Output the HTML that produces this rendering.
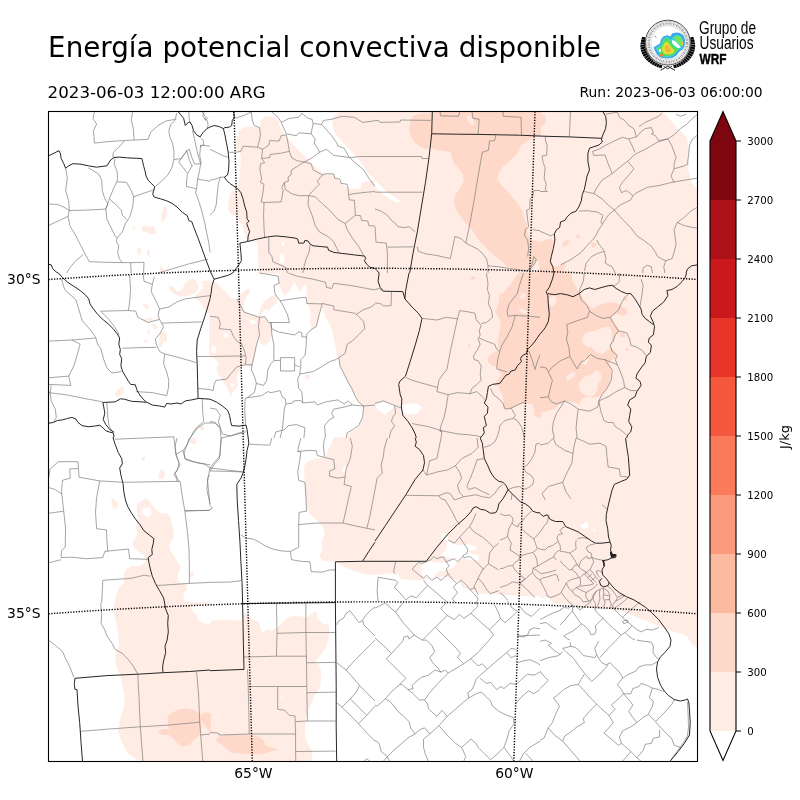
<!DOCTYPE html>
<html lang="es">
<head>
<meta charset="utf-8">
<title>Energía potencial convectiva disponible</title>
<style>
html,body{margin:0;padding:0;background:#fff;}
body{width:800px;height:800px;overflow:hidden;font-family:"DejaVu Sans","Liberation Sans",sans-serif;}
svg{display:block;will-change:transform;}
text{font-family:"DejaVu Sans","Liberation Sans",sans-serif;fill:#000;}
text.lg{font-family:"Liberation Sans","DejaVu Sans",sans-serif;}
</style>
</head>
<body>
<svg id="fig" width="800" height="800" viewBox="0 0 800 800">
<rect x="0" y="0" width="800" height="800" fill="#fff"/>
<!-- TITLES -->
<text id="t1" x="48.1" y="57" font-size="27.78">Energía potencial convectiva disponible</text>
<text id="t2" x="47.6" y="98" font-size="16.67">2023-06-03 12:00:00 ARG</text>
<text id="t3" x="762.6" y="97" font-size="13.89" text-anchor="end">Run: 2023-06-03 06:00:00</text>
<!-- MAP -->
<g id="map">
<defs><clipPath id="mc"><rect x="48.5" y="111.5" width="649" height="650"/></clipPath></defs>
<g clip-path="url(#mc)">
<path fill="#ffede5" stroke="none" d="M163.6 207L166.7 206L166.7 215.3L164.6 220.4L161.5 222.5L161.5 214.2ZM141.9 226.6L146.1 225.6L149.2 227.6L153.3 225.6L155.4 229.7L156.4 233.8L149.2 234.2L147.1 231.8L141.9 231.8ZM132 227.2L135.8 227.2L133.7 230.7ZM137.4 248.3L140.9 247.2L140.9 255.5L137.4 253.4ZM147.1 249.3L149.8 250.3L149.8 256.5L147.1 255.5ZM159.5 266.8L163.6 267.9L164.6 272L160.5 273ZM168.8 285.4L172.9 286.4L177 291.6L181.1 290.5L185.3 283.3L189.4 279.2L193.5 278.2L197.6 282.3L198.7 288.5L195.6 292.6L189.4 295.7L181.1 296.7L173.9 293.6L169.8 290.5ZM201.8 281.3L210.8 280.2L210.8 314.3L205.9 312.2L201.8 303.9L197.6 299.8L193.5 297.8L198.7 292.6L202.8 288.5ZM143 302.9L146.1 303.9L149.2 307L148.1 310.1L144 307ZM141.9 319.4L152.3 317.3L152.3 321.5L146.1 322.5ZM152.3 324.6L155.4 323.5L157.4 327.7L154.3 329.7ZM147.1 329.7L150.2 330.8L149.2 334.9L147.1 333.8ZM160.5 331.8L166.7 332.8L167.1 341.1L163.6 342.1L161.5 347.3L158.4 346.2L159.5 339ZM144 340L148.1 339L148.1 342.1L144 343.1ZM115.1 392.6L120.3 387.5L123.4 386.4L123.8 392.6L119.3 396.8L116.2 396.3ZM198.7 426.7L203.8 425.6L204.9 429.8L199.7 430.2ZM136.8 504L141.9 500.9L146.1 497.8L150.2 501.9L154.3 508.1L160.5 513.3L166.7 513.3L170.8 517.4L171.9 524.6L173.9 530.8L172.9 539.1L168.8 545.3L169.8 549.4L173.9 555.6L177 561.8L181.1 565.9L179.1 571L177 576.2L179.1 582.4L185.3 583.4L187.3 588.6L183.2 594.8L185.3 603.8L115.1 603.8L116.2 594.8L119.3 586.5L124.4 582.4L123.4 576.2L125.4 570L131.6 565.9L139.9 565.9L146.1 561.8L144 555.6L138.9 552.5L133.7 547.3L132.7 542.2L135.8 537L137.8 532.9L135.8 528.8L137.8 520.5L136.8 512.3ZM111 499.9L114.1 498.8L118.2 504L116.2 509.2L113.1 508.1ZM159.5 471L162.6 468.9L165.7 475.1L162.6 479.3L158.4 478.2ZM141.9 457.6L145 456.6L145 460.7L141.9 461.1ZM189.4 438L196.6 438L195.6 444.2L190.4 443.2ZM189.4 573.1L193.5 571L193.1 576.2L190.4 577.2ZM210.8 602.2L210.8 768.8L141.9 768.8L141.9 761.4L133.7 757.7L127.5 753.6L124.4 747.4L120.3 739.1L118.2 730.9L119.3 722.6L121.3 714.4L124.4 706.1L124.4 695.8L122.4 685.5L120.3 675.2L117.2 669L115.1 660.8L116.2 652.5L119.3 644.3L118.2 633.9L116.2 623.6L114.1 613.3L114.1 602.2ZM238.9 130.7L244 127.6L251.3 126.6L259.5 127.6L260.5 120.4L265.7 116.3L273.9 116.7L278.1 121.4L280.5 128.6L284.7 134.4L290.4 141L295.6 147.2L301.8 153.4L308 159.6L314.2 165.8L320.4 171.5L325.5 173.6L333.8 174.4L337.5 179.2L342 183.9L347.8 188.4L354.4 188.9L360.6 188L361.6 182.7L366.8 181.2L373 180.6L375.8 180.6L375.8 273.8L258.5 273.8L257.9 252.4L257 242.1L247.7 241.3L245.1 235.9L243 227.6L240.9 222.5L236.8 219.4L235.8 216.3L231.7 214.8L228.2 210.1L228.6 201.9L229.6 194.6L233.1 190.5L237.8 188L238.9 180.2L239.9 169.9L240.9 157.5L239.9 152.3L235.8 149.3L236.4 138.9ZM331.7 118.3L337.9 113.2L344.1 110.5L375.8 110.5L375.8 179.2L369.9 175L364.3 167.8L358.5 159.6L352.3 152.3L345.1 145.1L338.9 137.9L333.8 131.7L332.7 124.5ZM375.8 272.2L375.8 438.8L347.2 438.8L348.2 433.9L353.4 430.8L358.5 426.7L363.1 417.4L363.7 406L358.5 401.9L354.4 394.7L350.3 386.4L346.1 378.2L342 369.9L338.9 361.7L336.9 355.5L335.8 348.3L333.8 339L332.7 332.8L329.6 323.5L325.5 317.3L323 310.1L321.4 305L317.3 306L314.2 308.1L311.1 306L306.9 303.9L305.9 296.7L306.9 290.5L305.9 284.3L302.8 286.4L300.8 292.6L297.7 288.5L294.6 282.3L292.5 285.4L289.4 291.6L284.3 295.7L281.2 291.6L279.1 283.3L279.1 272.2ZM306.9 303.9L321.4 304.4L319.3 314.3L316.2 326.6L311.5 329.7L310 320.4L311.1 312.2L309 307ZM209.2 281.3L216.2 282.3L222.4 288.5L228.6 295.7L234.8 299.8L237.8 298.8L240.9 293.6L246.1 289.5L250.2 288.5L249.2 293.6L245.1 299.8L243 306L245.1 311.2L251.3 314.3L258.5 316.3L260.5 308.1L263.6 301.9L269.8 296.7L276 294.7L278.1 299.8L276 303.9L271.9 307L268.8 311.2L265.7 309.1L261.6 313.2L260.5 317.3L264.7 317.3L268.8 322.5L270.8 326.6L271.5 334.9L269.8 341.1L265.7 345.2L261.6 344.2L259.5 341.1L258.5 334.9L257 343.1L255 353.4L253.3 361.7L251.3 367.9L249.2 365.8L245.1 364.8L240.9 366.9L238.9 372L236.8 376.1L237.8 384.4L235.8 388.5L232.7 392.6L231.7 396.8L227.5 388.5L222.4 380.3L218.3 374.1L216.2 367.9L219.3 363.8L215.2 359.6L209.2 355.5ZM304.9 375.1L309 374.1L310 379.2L305.9 379.2ZM375.8 437.2L375.8 575.2L363.7 574.1L354.4 571L344.1 566.9L335.4 561.8L323.4 560.7L319.3 556.6L322.4 549.4L321.4 541.1L324.5 534.9L323.4 527.7L319.3 522.6L313.1 517.4L309 512.3L306.5 506.1L305.3 495.8L304.9 482.3L303.9 471L304.9 463.8L309 460.7L317.3 458.6L325.5 457.6L327.6 450.4L331.7 444.2L333.8 437.2ZM209.2 621.6L218.3 619.5L230.6 620.5L242.6 620.5L243 613.3L248.2 614.3L249.2 617.4L258.5 621.6L260.5 628.8L264 633.9L265.7 628.8L271.9 630.8L276.4 627.8L281.2 623.6L286.3 618.5L292.5 615.8L300.8 616.4L306.9 617.4L312.1 613.3L316.2 610.8L317.3 617.4L322.4 623.6L328.6 624.7L329.2 631.9L328.6 640.1L325.5 648.4L321.4 654.6L317.3 658.7L315.2 662.8L319.3 664.9L321.4 673.1L320.4 685.5L317.3 691.7L314.2 695.8L311.1 704.1L308 710.3L305.9 718.5L304.9 726.8L305.3 739.1L309 745.3L312.1 751.5L311.1 768.8L209.2 768.8ZM374.2 107.2L540.8 107.2L540.8 273.8L374.2 273.8ZM374.2 272.2L540.8 272.2L540.8 438.8L374.2 438.8ZM374.2 437.2L540.8 437.2L540.8 603.8L374.2 603.8ZM539.2 107.2L705.8 107.2L705.8 273.8L539.2 273.8ZM539.2 272.2L705.8 272.2L705.8 438.8L539.2 438.8ZM539.2 437.2L705.8 437.2L705.8 603.8L539.2 603.8ZM699.9 602.2L699.9 647.3L693.7 646.3L690.6 642.2L687.5 637L682.3 633.9L674.1 631.9L665.8 628.8L657.6 625.7L647.3 621.6L639 618.5L630.8 614.3L620.4 611.3L608.1 609.2L591.6 608.2L577.1 607.1L566.8 602.2Z"/>
<path fill="#ffffff" stroke="none" d="M141.9 509.2L146.1 508.1L150.2 507.1L151.8 512.3L149.2 517.4L146.1 516.4L141.9 513.3ZM191.5 606.1L197.6 605.1L210.8 605.1L210.8 623.6L203.8 623.6L198.7 620.5L196.6 615.4L192.5 611.3ZM281.2 241.7L283.8 241L284.7 245.2L281.8 245.8ZM279.7 254.5L283.2 253.4L284.7 259.6L283.2 263.7L279.7 262.7ZM212.1 345.2L216.2 347.3L215.2 353.4L211 351.4ZM223.4 333.8L227.5 332.8L228.6 336.9L224.4 338ZM250.2 319.4L256.4 321.5L254.3 324.6L250.2 323.5ZM230.6 382.3L234.8 384.4L233.7 387.5L230.6 386.4ZM342 468.9L345.1 465.8L346.6 471L344.1 473.1ZM281.2 696.2L283.2 696.2L283.2 698.3L281.2 698.3ZM375 181.2L379.1 184.3L387.4 192.6L395.6 197.7L399.8 200.8L397.7 202.9L389.4 198.8L381.2 192.6L375 187.4L374.2 186.4L374.2 180.6ZM376 404L382.2 401.9L391.5 403L394.6 407.1L390.5 410.2L385.3 415.3L380.2 411.2L376 408.1ZM401.8 405L409 403.4L418.3 404L421.4 408.1L417.3 413.3L405.9 414.3L401.8 411.2ZM374.2 575.2L375 575.2L396.7 572.5L401.4 579.3L421.4 580.3L434.8 577.2L445.1 576.2L454.4 580.3L459.6 580.3L461.6 587.5L471.9 590.6L482.3 593.7L498.8 594.8L519.4 595.8L540.8 596.8L540.8 603.8L374.2 603.8ZM421.4 563.8L428.6 561.8L444.1 563.2L447.2 561.8L452.4 558.7L446.2 556.6L441 555.6L445.1 550.4L447.2 545.3L446.2 541.1L442 539.1L441 534.9L444.1 532.9L447.2 534.9L448.2 540.1L452.4 543.2L457.5 545.3L461.6 545.3L467.8 544.2L476.1 546.3L476.1 549.4L468.9 550.4L471.9 554.5L478.1 554.5L479.2 559.7L471.9 560.7L465.8 558.7L461.6 558.7L457.5 561.8L454.4 566.9L446.2 570L436.9 572.1L434.8 576.6L423.5 578.3L421.4 571ZM699.9 110.5L699.9 190.5L696.8 189.5L691.6 182.3L688.5 171.9L688.1 159.6L688.5 145.1L686.5 136.9L680.3 130.7L674.1 124.5L667.9 117.3L661.7 110.5ZM580.2 525.7L586.4 521.5L589.5 525.7L584.3 529.8ZM592.6 529.8L595.7 528.8L594.7 532.9ZM539.2 598.9L546.2 596.8L552.4 601L554.4 603.8L539.2 603.8Z"/>
<path fill="#fed9c9" stroke="none" d="M167.7 716.4L172.9 712.3L179.1 709.2L187.3 708.2L194.5 710.3L199.7 713.4L200.7 718.5L201.8 726.8L199.7 735L193.5 740.2L189.4 745.3L183.2 746.4L177 743.3L172.9 738.1L168.8 735L162.6 735L158.4 731.9L160.5 729.2L168.8 728.8L167.7 722.6ZM200.7 714.4L205.9 712.3L210.8 713.4L210.8 731.9L208 729.9L203.8 724.7L200.7 719.5ZM216.2 739.1L220.3 736L228.6 735L240.9 734.6L251.3 735L259.5 737.1L263.6 740.2L265.7 745.3L271.9 747.4L278.1 749.5L271.9 751.5L263.6 753.6L251.3 754.6L240.9 753.6L230.6 752.5L226.5 748.4L222.4 745.3L217.2 742.2ZM412.1 116.3L419.3 113.8L432.3 112.5L432.3 110.5L540.8 110.5L540.8 136.1L534.9 136.9L527.6 141L521.5 145.1L517.3 153.4L509.1 161.6L501.9 167.8L497.7 176.1L497.7 180.2L502.9 186.4L509.1 193.6L517.3 202.9L522.5 211.1L524.5 219.4L527.6 225.6L526.6 231.8L531.8 240L540.8 242.1L540.8 260.6L535.9 261.7L531.8 268.9L527.6 271L515.3 268.9L507 266.8L500.8 260.6L492.6 254.5L486.4 248.3L480.2 242.1L476.1 235.9L471.9 229.7L465.8 223.5L459.6 215.3L455.4 209.1L454 200.8L455.4 194.6L459.6 189.5L463.7 180.2L462.7 174L458.5 168.8L454.4 163.7L451.7 157.5L450.3 152.3L445.1 150.9L436.9 150.3L430.7 147.6L425.5 149.3L419.3 146.2L414.2 142L410.1 134.8L409 126.6ZM540.8 272.2L540.8 417.4L538 417.4L533.8 415.3L534.9 410.2L531.8 404L525.6 403L519.4 405L509.1 409.1L502.9 408.1L503.9 403L502.9 396.8L500.8 392.6L498.8 387.5L495.7 384.4L496.7 381.3L498.8 378.2L501.9 374.1L498.8 372L497.7 366.9L492.6 365.8L488 361.7L488.4 356.5L493.6 352.4L498.8 350.4L497.7 343.1L498.8 332.8L500.8 324.6L498.8 317.3L494.6 311.2L496.7 309.1L498.8 301.9L499.8 293.6L503.9 292.6L507 287.4L511.1 284.3L515.3 277.1L519.4 272.2ZM470.3 276.7L475 276.7L475 279.6L470.3 279.6ZM467.8 344.2L470.3 344.2L470.3 346.8L467.8 346.8ZM539.2 113.2L540 113.2L545.2 116.3L546.2 121.4L543.1 125.5L540 126.6L539.2 126.6ZM539.2 242.1L546.2 240L551.3 238L553.4 241L552.4 252.4L551.3 260.6L554.4 266.8L560.6 264.8L564.8 261.7L565.8 266.8L562.7 273.8L539.2 273.8ZM562.7 242.1L567.8 240L569.9 242.1L565.8 246.2L562.7 245.8ZM576.1 234.9L579.2 234.2L580.2 238L576.7 238.4ZM590.5 244.1L594.7 242.1L596.7 245.2L592.6 248.3ZM570.9 272.2L572 279.2L575.1 285.4L580.2 293.6L584.3 299.8L588.5 306L593.6 308.1L601.9 303.9L608.1 301.9L616.3 302.9L621.5 306L626.6 309.1L627.7 314.3L622.5 316.3L616.3 313.2L611.2 317.3L613.2 322.5L618.4 327.7L619.4 332.8L615.3 334.9L613.2 341.1L611.2 347.3L615.3 352.4L617.4 357.6L612.2 359.6L609.1 363.8L611.2 369.9L610.1 378.2L608.1 386.4L603.9 392.6L598.8 396.8L593.6 397.8L587.4 396.8L581.3 398.8L579.2 405L573 401.9L564.8 400.9L558.6 405L554.4 409.1L546.2 411.2L539.2 412.2L539.2 272.2ZM619.4 332.8L624.6 332.8L625.6 336.9L620.4 336.9ZM625.6 348.3L628.7 348.3L628.7 351L625.6 351ZM623.5 296.7L627.7 296.7L627.7 300.8L623.5 300.8Z"/>
<path fill="#ffede5" stroke="none" d="M466.8 116.3L469.9 115.2L473.6 120.4L474 125.5L470.9 124.5L467.8 120.4ZM522.5 292.6L526.6 294.7L523.5 298.8L519.4 297.8ZM519.4 308.1L527.6 311.2L526.6 314.3L519.4 311.2ZM583.3 334.9L588.5 331.8L595.7 330.8L601.9 327.7L609.1 326.6L612.2 331.8L611.2 341.1L609.1 349.3L601.9 354.5L595.7 351.4L591.6 347.3L586.4 346.2L582.3 342.1ZM566.8 376.1L573 372L576.1 374.1L570.9 379.2L565.8 380.3ZM581.3 380.3L585.4 376.1L591.6 375.1L595.7 369.9L599.8 372L601.9 378.2L597.8 384.4L596.7 391.6L591.6 396.8L584.3 394.7L580.2 390.6L578.2 384.4ZM549.3 297.8L555.5 295.7L556.5 301.9L552.4 307L549.3 303.9ZM584.3 357.6L588.5 359.6L586.4 364.8L582.3 363.8Z"/>
<path fill="none" stroke="#747474" stroke-width="0.65" stroke-linejoin="round" d="M94.5 112.1L92.9 118.3L96.6 124.1L93.5 130.7L94.5 143.1L103.8 142L117.2 141L134.1 140L148.1 139.4L150.6 132.3L158 125.5L166.7 120.8L175.4 119.3L176.6 113.2M132.7 112.1L131.2 119.3L133.3 128.6L134.1 140M124.4 141L118.8 147.2L113.5 152.3L112.7 156.5L115.1 157.5M176 119.3L170.8 124.5L168.8 130.7L169.8 136.9L172.5 143.1L173.9 151.3L173.9 159.6L171.9 167.8L167.7 175L162.6 180.2L155.4 186.4M173.9 159.6L181.1 158.5L187.3 150.3L189.4 149.3L191.9 157.5L194.5 164.1L200.7 163.7M187.3 149.9L178.7 162L187.7 173.6L192.5 165.3M188.8 112.1L189.4 120.4L190.4 122M192.5 130.7L194.5 138.9L196.6 149.3L198.7 157.5L200.7 163.7L199.7 169.9L197.6 179.2L196.6 188.4L195.6 192.6L198.7 200.8L201.8 211.1L204.9 223.5L206.9 233.8L209 244.1L210 252.4M210 146.2L200.7 145.1L199.7 155.4L201.4 163.7M187.3 174L186.3 186.4L196.6 188.9M197.6 179.2L210 181.2M203.8 112.1L202.8 116.3L205.9 120.4L208 117.3M65.6 168.2L67.3 178.1L65.6 190.5L68.7 200.8L69.3 210.1L68.1 216.3M48.5 203.9L57.4 204.5L63.6 207L69.3 210.5M69.3 210.5L86.3 210.1L105.8 209.1M48.5 225.6L68.1 216.3M68.1 216.3L69.8 225.6L75.9 235.9L83.2 250.3L89.3 261.7L106.9 262.3L130.6 262.7L144 262.3M83.2 254.5L75.9 260.6L69.8 267.9L66.7 273M88.3 167.8L98.6 174L101.7 180.2L102.3 190.5L104.8 198.8L107.9 203.9L105.8 209.1L106.9 219.4L111 227.6L115.1 235.9L117.2 238M115.1 158.5L114.1 163.7L117.2 171.9L117.6 178.1L116.8 181.8L113.1 189.5L109.4 198.8L105.8 209.1M116.8 181.8L126.5 182.3L130.6 189.5L133.7 196.7L132.7 207L129.6 217.3L125.4 223.5L122.4 231.8L117.2 238M133.7 196.7L154.7 189.5M109.4 198.8L116.2 204.9L121.3 210.1L122.4 215.3L126.5 219.4M117.2 238L116.2 241L118.8 246.2L117.6 252.4L119.3 258.6L122.4 262.7M130.6 262.7L131.2 273M144 262.3L143.6 273M158 273L168.8 269.9L189.4 263.7L208 259.2M61.5 279.2L64.6 289.5L75.9 299.8L79 310.1L82.1 320.4L89.3 328.7L95.5 336.9L97.6 344.2L100.7 348.3L103.8 359.6L106.9 367.9L112 373L121.3 371.6M48.5 341.1L71.8 340L95.5 338M71.8 340L80.1 344.2L77 355.5L73.9 365.8L68.7 376.1L70.8 385.4M48.5 377.8L68.7 376.1M48.5 384.4L70.8 385.4M48.5 392.6L65.6 394.7L86.3 398.8L102.8 401.9M51.2 385.4L50.2 392.6L51.2 400.9L55.3 409.1L56.3 417.4L53.3 422.5M129.6 275.1L130.6 289.5L129.6 301.9L128.5 310.5M100.7 311.2L128.5 310.5L135.8 311.2L137.8 317.3L144 320.4L148.1 322.5L159.5 319.4L163.6 326.6L160.5 332.8L155.4 339L156.4 344.2L159.5 351.4L164.6 353.9M143 273L144 281.3L152.3 284.3L154.3 277.1M152.3 284.3L151.2 291.6L156.4 301.9L159.5 309.1L158 315.3L159.5 319.4M159.5 309.1L168.8 307L177 301.9L185.3 298.8L201.8 296.7L210 295.7M161.5 323.1L201.8 321.9M122.4 348.3L137.8 347.7L156.4 347.3M164.6 353.9L179.1 357.6L196.6 362.7M166.7 395.7L168.3 388.5L168.8 380.3L166.7 372L163.6 363.8L164.6 353.9M135.8 391.6L152.3 392.6L166.7 395.7M197.6 356.5L210 356.5M198.1 388.5L210 389.5M202.2 399.2L202.8 413.3L203.8 421.5L197.6 426.7L193.5 431.8L190.4 438M106.9 403L107.9 417.4L108.9 425.6L112 430.8M100.7 311.2L108.9 319.4L115.1 327.7L119.3 334.9M48.5 478.2L50.2 468.9L58.4 461.7L78 461.7L79 477.2L99.7 480.9L123.4 482.3L180.1 481.3M78 468.5L69.8 468.9L70.2 478.2L62.5 480.3L61.5 491.6L63.6 510.2L65.6 528.8L65.2 547.3L61.5 550.4L61.1 557.6L71.8 557.2L86.3 558.7L102.8 557.6L104.8 551.4L128.5 549L129.6 558.7L148.1 559.3M48.5 487.5L55.3 489.6L61.9 494.1M48.5 513.3L63.6 511.2M48.5 562.8L61.1 559.7M99.7 480.9L96.6 497.8L95.5 512.3L96.6 528.8L106.5 529.8L106.9 541.1L107.9 551.4M180.1 481.3L182.2 495.8L184.9 511.2L187.3 530.8L189 549.4L189.4 565.9L189.4 583.4M184.9 511.2L210 510.2M157.4 585.5L189.4 583.4L210 582.4M101.7 603L102.8 580.3L117.2 579.3L131.6 578.3L144 575.2L150.2 576.2M177 438L175 446.3L176 454.5L179.1 462.8L177 471L173.9 474.1L177 479.3L177 481.3M176 454.5L183.2 450.4L187.3 444.2L189.4 438M183.2 450.4L185.3 458.6L197.6 462.8L210 464.8M210 475.1L208 477.2L206.9 489.6L210 504M100.7 603L101.7 613.3L101.1 623.6L104.8 629.8L106.9 636L112 643.2L115.1 649.4L122.4 653.5L128.5 659.7L133.7 666.9L137.8 674.2M48.5 640.1L55.3 645.3L62.5 651.5L65.6 658.7L69.8 666.9L73.9 677.3M137.8 674.2L138.9 695.8L140.3 726.8L141.9 747.4L143 761.4M81.1 731.3L106.9 729.2L140.3 726.8L168.8 725.1L199.7 722.2M196.6 672.1L198.7 695.8L199.7 722.2L200.7 735L202.8 761.4M200.7 735L210 734M234.3 118.3L243 115.8L251.3 112.1M251.3 112.1L252.3 120.4L254.3 125.5L259.5 127.6L260.5 134.8L258.5 144.1L257.4 147.2L243 146.2L240.9 151.3L235.8 152.3M257.4 147.2L262.6 149.3L261.6 158.5L264.7 162.7L260.5 163.7L259.9 169.9L261.6 178.1L260.5 182.3L264 184.3L262.6 194.6L261.2 201.9L264 202.5L281.2 201.9L283.2 190.5L281.8 187.4L284.3 182.3L288.4 181.2L288 177.1L290.9 175L291.5 169.9L296.6 166.8L303.9 162M264 202.5L263.6 215.3L264 227.6L264.7 237.5M261.6 158.5L269.8 157.5L270.2 154.4L280.1 153.4L289.4 151.3L288 143.1L286.3 134.8L281.2 135.8L279.1 141L269.8 140.6L268.8 145.1L262.6 149.3M271.9 112.1L278.1 117.3L281.2 122.4L286.3 133.8M281.2 122.4L289.4 118.3L298.7 117.3L301.8 113.2L308 118.3L312.1 119.3L313.1 123.5L311.1 133.8L298.7 132.8L296.6 135.8L286.3 133.8M311.1 133.8L315.2 138.9L314.2 143.1L318.3 149.3L319.3 152.3L311.1 158.5L303.9 162M289.4 151.3L291.5 157.5L296.6 160.6L303.9 162M303.9 162L311.1 163.7L313.1 169.9L322.4 175L317.3 181.2L319.3 184.3L313.1 190.5L308.6 195.7M284.3 182.3L285.3 189.5L291.5 193.6L298.7 195.7L308.6 195.7M308.6 195.7L308 204.9L312.1 215.3L315.2 225.6L319.3 231.8L328.6 236.9L333.8 242.1L338.9 252.4M308.6 195.7L315.2 196.7L321.4 202.9L329.6 210.1L337.9 219.4L345.1 223.5M322.4 175L326.5 173.6L333.8 174L334.8 178.1L340 179.2L341 183.3L347.2 184.3L348.2 189.5L349.2 199.8L354.4 200.4L355.4 215.3L345.1 223.5M345.1 223.5L347.2 229.7L352.3 238L358.5 246.2L363.7 255.5M355.4 215.3L360.6 215.7L361.6 220.4L367.8 221L368.8 225.6L375 226M349.2 194.6L354.4 193.6L366.8 192.2L375 191.5M319.3 152.3L326.5 149.3L333.8 155.4L342 156.5L349.2 157.5M313.1 123.5L321.4 124.5L326.5 129.7L331.7 135.8L336.9 143.1L337.9 146.2L344.1 148.2L349.2 157.5L356.5 163.7L363.7 169.9L368.8 178.1L375 186.4M321.4 124.5L323.4 120.4L331.7 119.3L342 116.3L354.4 117.3L362.6 122.4L375 120.8M349.2 157.5L360.6 156.5L375 156.5M268.8 238L268.8 252.4L271.9 256.5L272.9 261.7L280.1 264.8L286.3 267.9L287.4 273M310 245.2L309 252.4L305.9 259.6L303.9 266.8L302.8 273M210 149.3L216.2 152.3L222.4 155.4L228.6 157.5M210 180.2L215.2 179.2L220.3 177.1L224.4 177.1M220.3 177.1L218.3 184.3L217.2 194.6L216.2 204.9L214.1 211.1L210 215.3M228.2 152.3L234.8 152.3M210 316.3L218.3 317.3L220.3 323.5L219.3 328.7L230.6 329.7L233.7 336.9L237.8 342.1L240.9 343.1M210 356.5L245.1 355.9M236.8 298.8L240.9 306L244 312.2L259.5 317.3L264.7 316.7L268.8 322.5L289.4 322.5L287.4 314.3L283.2 306L280.1 300.8M259.5 317.3L258.5 326.6L259.5 334.9L256.4 345.2L254.3 355.5L252.3 363.8L251.3 369.9L254.3 376.1L256.4 383.4L263.6 385.4L266.7 380.3L267.8 369.9L270.8 363.8L273.9 360.7M240.9 343.1L244 349.3L246.1 357.6L245.5 364.8L236.8 366.9L230.6 374.1L226.5 379.2L216.2 380.3L214.1 384.4L213.1 390.6L210 389.5M245.5 364.8L252.3 364.8M256.4 383.4L254.3 392.6L247.1 397.8L245.1 398.8L244.7 409.1L245.5 425.2M247.1 397.8L261.6 395.7L267.8 391.6L270.8 392.6L276 391.6L280.1 390.6L282.2 396.8L285.3 398.8L285.9 404L292.5 403L293.5 400.9L300.8 400.5L302.8 403L315.2 401.9L317.3 405L325.5 401.9L337.9 399.9L344.1 404L348.2 400.9L352.3 405L363.7 406M285.9 404L284.3 409.1L283.2 421.5L282.2 429.8L280.1 438M280.1 300.8L299.7 297.8L305.9 297.3L306.9 303.5L321.4 303.9L322.4 303.5M280.1 300.8L275 293.6L273.9 285.4L279.1 283.3L278.1 276.1L259.5 273M288.4 273L296.6 276.1L313.1 279.2L325.5 282.3L326.5 287.4L331.7 288.5L333.8 283.3L350.3 285.4L366.8 288.5L375 289.9M322.4 303.5L333.8 306L333.8 309.7L354.4 313.2L356.5 314.3L362.6 310.1L370.9 307L375 303.9M322.4 303.5L319.3 314.3L316.2 326.6L311.1 329.7L306.9 333.8L306.5 336.9L305.9 349.3L304.9 355.5L300.8 359.6L300.8 366.9L299.7 374.1M270.8 322.5L271.9 328.7L278.1 331.8L288.4 333.8L294.6 334.9L298.7 331.8L301.8 332.8L301.8 336.9L306.5 336.9M270.8 322.5L271.9 334.9L273.9 345.2L273.9 360.7L280.1 360.3M280.5 357.6L294.6 357.6L294.6 371L280.5 371L280.5 357.6M294.6 364.8L299.7 366.9M299.7 374.1L313.1 371.6L321.4 366.9L329.6 361.7L335.8 359.6L338.9 357.6M299.7 374.1L297.7 379.2L298.7 388.5L301.8 391.6L302.8 403M356.5 314.3L363.7 321.5L364.7 328.7L358.5 334.9L352.3 341.1L347.2 344.2L345.1 353.4L338.9 357.6L340 365.8L344.1 374.1L348.2 382.3L352.3 389.5L355.4 396.8L358.5 401.9L363.7 406L362.6 417.4L358.5 425.6L352.3 429.8L347.2 432.9L346.1 438M363.7 406L375 405M325.5 438L324.5 425.6L329.6 419.5L333.8 417.4L331.7 413.3L333.8 409.1L344.1 407.1L352.3 405M210 408.1L216.2 409.1L220.3 415.3L218.3 421.5L220.3 427.7L222.4 433.9L230.6 436L238.9 432.9L246.1 431.8M273.9 438L276 431.8L284.3 429.8L288.4 425.6L296.6 424.6L304.9 427.7L303.9 438M210 421.5L215.2 422.5L220.3 427.7M249.2 444.2L269.8 445.2L271.9 438M210 471L228.6 471.4L243 472M221.3 438L220.3 448.3L219.3 458.6L214.1 464.8L210 471M300.8 438L298.7 446.3L297.7 451.4L300.8 452L299.7 460.7L297.7 472L298.7 480.3L304.9 482.3L305.9 495.8L306.5 511.2L299.1 512.3L298.7 524.6L298.7 547.3L290.4 551.4M297.7 451.4L309 450.4L316.2 450.8L317.3 455.5L325.5 457.6L333.8 459.7L334.8 468.9L329.6 471L329.6 476.2L337.9 478.2L345.1 476.8L346.1 468.9L350.3 458.6L352.3 446.3L350.3 438M324.5 438L323.4 446.3L324.5 456.6M345.1 476.8L344.1 484.4L351.3 486.5L348.2 499.9L345.1 514.3L343 523M298.7 524.6L317.3 523L343 523L354.4 525.7L366.8 528.3L375 529.8M366.8 528.3L369.9 516.4L373 499.9L375 489.6M240.9 534.9L246.1 538L253.3 539.1L259.5 542.2L265.7 546.3L273.9 549.4L282.2 551L290.4 551.4L291.5 559.7L300.8 561.3L310 561.8L311.1 571.7L322.4 572.1L329.6 570L335.4 570M210 582.4L230.6 582L240.9 580.7M276.4 604L277 632.9L276.4 656.2M305.9 603L305.9 632.9L306.5 662.8L306.9 692.7L307.4 721M277 633.3L305.9 632.5L335.4 632.5M244 657L276.4 656.2L306.5 656.2M306.5 662.8L335.8 662.4M247.5 669.4L248.2 686.5L248.8 710.3L249.2 734M248.2 686.5L277.7 686.5L306.5 686.5M306.9 692.7L335.8 692.1M277.7 686.5L277.7 709.2L284.7 710.3L289.4 715.4L295 716L295.6 734L295.6 751.5L295.8 761.4M295.8 721.6L307.4 721L335.8 721M210 732.5L218.3 733L219.3 735L249.2 734L295.6 734M295.6 751.5L335.8 751.1M336.9 624.7L338.3 621.2L343.7 617.9L346.1 613.3L349.9 610.8L354.4 616.4L358.9 622.6L362.6 620.5L365.7 615.4L370.9 610.2L375 607.1M362.6 620.5L363.7 624.7L367.8 628.8L375 636M336.9 662.8L346.1 670L354.4 660.8L362.6 652.5L370.9 644.3L375 640.1M346.1 670L354.4 679.3L359.5 685.5L366.8 692.7L375 701M359.5 685.5L356.5 691.7L350.3 698.9L342 707.2L336.9 703M350.3 698.9L358.5 707.2L366.8 715.4L375 706.1M342 707.2L354.4 719.5L358.5 723.7L366.8 715.4M358.5 723.7L366.8 733L375 741.2M363.7 761.4L366.8 758.7L369.9 761.4M375 120.4L379.1 120.8L380.2 122.4L399.8 122L400.8 120L430.7 120.4M375 156.5L421.4 156.5L422 158.5L429 158.5M375 192.2L422.4 192.2M375 209.1L381.2 211.1L387.4 215.3L391.5 220.4L395.6 223.5L397.7 226.6L404.9 227.6L409 226.6L415.2 231.8M375 226.6L376 242.1L386.3 243.1L387.4 252.4L387.4 273M387.4 247.2L413.2 246.8M417.3 246.6L418.3 251.4L426.6 254L436.9 255.5L450.3 258.6L455 236.3L461.6 239L465.8 243.1L471.9 246.2L478.1 249.3L482.3 253.4L486.4 258.6L488 265.8L488 273M465.8 243.1L469.9 223.5L474 200.8L478.1 176.1L482.3 152.3L488.4 150.3L489.5 141L494.6 140.6L495.7 135.2M488 265.8L498.8 266.8L509.1 268.5L527.6 271M440 111.5L440.6 115.8L458.5 116.3L459.6 112.1M471.9 111.5L473 118.3L479.2 119.3L478.1 134.4M502.9 111.5L503.3 116.3L521 117.3L521.5 134.8M540 190.5L533.8 190.5L532.8 196.7L530.1 198.8L529.7 209.1L526.6 210.1L527.6 219.4L528.7 226.6L525.6 229.7L524.5 235.9L527.6 240L528.7 248.3L527.6 256.5M532.8 229.7L540 230.7M527.6 271L531.8 264.8L533.8 256.5L536.3 259.6L533.8 264.8L528.7 271M375 289.5L379.1 288.5L383.3 291.2M375 302.9L381.2 303.9L383.3 306L391.1 305.6L391.5 292M422 318.4L436.9 320L446.2 317.3L457.5 318.8L459.6 310.5L467.8 311.8L475 313.2L476.1 319.4L481.2 325.6L479.2 330.8L480.2 334.9L478.1 339L480.2 344.2L477.1 350.4L473.6 355.5L474 359.6L478.1 360.7L481.2 365.8L480.2 374.1L481.2 380.3L477.1 384.4L471.9 388.5L469.9 393.7M457.5 318.8L454.4 332.8L450.3 351.4L446.8 369.9L443.1 374.1L438.9 380.3L436.9 391.6L448.2 394.7L457.5 392.6L469.9 393.7L477.1 391.6L482.3 396.8L485.4 399.9M405.5 377.2L412.1 380.3L426.6 384.4L437.9 387.5M448.2 394.7L446.2 407.1L444.1 417.4L441 425.6L440 431.8L442 430.8L457.5 433.9L469.9 434.9L478.1 436L481.2 437M412.1 423.6L428.6 426.7L442 430.8L441 438M486.4 273L488 283.3L487.4 289.5L489.5 295.7L488.4 303.9L491.5 310.1L492.6 317.3L486.4 322.5L481.2 323.5M479.2 338L486.4 341.1L494.6 344.2L496.7 349.3L499.8 351.4M499.8 351.4L497.7 359.6L496.7 368.9L507 372M523.5 273L519.4 285.4L517.3 293.6L509.1 303.9L507 311.2L508 316.3L515.3 315.3L529.7 316.3L540 317.3M515.3 315.3L512.2 326.6L507 336.9L501.9 345.2L499.8 351.4M528.7 350.4L532.8 361.7L534.9 369.5L538 359.6L540 354.5M490.5 388.5L493.6 394.7L498.8 398.8L502.9 403L505 409.1L511.1 408.1L519.4 404L524.5 401.9M511.1 408.1L515.3 415.3L513.2 418.4L517.3 420.5L521.5 426.7L523.5 433.9L524.5 438M513.2 418.4L505 420.5L499.8 425.6L498.8 431.8L496.7 438M375 403.4L383.3 400.9L393.6 405L401.4 408.1M394.6 406L395.6 413.3L392.5 417.4L391.5 421.5L394.6 425.6L390.5 431.8L389.4 438M387.4 438L384.3 448.3L383.3 456.6L381.2 464.8L382.2 473.1L377.1 478.2L375 489.6M405.9 495.3L438.9 495.8L446.2 492.7L450.3 493.7L454.4 499.9L463.7 496.8L476.1 494.7L482.3 496.8L489.5 497.8L494.6 493.7L498.8 487.5L502.9 484.4M438.9 495.8L441 498.8L445.1 499.9L451.3 510.2L456.5 520.5L459.6 524.6M422.9 470L426.6 475.1L436.9 472L447.2 470L455.4 465.8L459.6 472L461.6 478.2L457.5 485.4L459.6 492.7L463.7 496.8M426.6 475.1L429.7 460.7L436.9 458.6L441 438M455.4 465.8L461.6 458.6L471.9 453.5L478.1 447.3L477.1 438M484.3 458.6L477.1 459.7L474 468.9L469.9 479.3L466.8 486.5L468.9 489.6L475 487.5L482.3 491.6L489.5 494.7M484.3 447.3L490.5 445.2L494.6 442.1L496.7 438M508 489.6L513.2 487.5L519.4 486.5L523.5 489.6L528.7 487.5L532.8 484.4L533.8 479.3L530.7 475.1L525.6 472L523.5 466.9L527.6 464.8L531.8 458.6L534.9 452.4L535.9 444.2L540 443.2M512.2 493.7L511.1 499.9M476.1 513.3L473 520.5L469.5 526.7L459.6 537L454.4 543.2L448.2 540.1M469.5 526.7L474 531.9L482.3 537L488.4 542.2L493.6 547.3L489.5 553.5L488.4 563.8L482.3 570L478.1 578.3L474 586.5L476.1 590.6L478.1 594.8M498.8 543.2L493.6 547.3M459.6 537L463.7 543.2L467.8 549.4L466.8 553.5L462.7 555.6L463.7 557.6L469.9 556.6L476.1 561.8L484.3 570M488.4 563.8L493.6 566.9L498.8 570M478.1 578.3L482.3 582.4L487.4 590.6L490.5 593.7L498.8 590.6M395.6 561.3L393.6 572.1L395.6 574.1M412.1 569L419.3 561.8L421.4 563.8L425.5 561.8L430.7 559.7L433.8 556.6L436.9 558.7L443.1 556.6L446.2 561.8L449.3 565.9L446.2 569L448.2 574.1L441 580.3L436.9 577.2L431.7 580.3L426.6 575.2L423.5 578.3L419.3 575.2L412.1 569M446.2 561.8L454.4 558.7L457.5 561.8L462.7 556.6M448.2 574.1L452.4 579.3L456.5 583.4L461.6 580.3L466.8 585.5L469.9 589.6L475 587.5M378.1 601L377.1 590.6L378.1 577.2L395.6 580.3L397.7 582.4L394.6 587.5L399.8 592.7L405.9 599.9L411.1 595.8L416.3 597.9L427.6 585.5L423.5 580.3M427.6 585.5L433.8 590.6L441 596.8L447.2 602M456.5 583.4L453.4 587.5L457.5 592.7L452.4 598.9L455.4 603M469.9 589.6L474 593.7L478.1 598.9L476.1 603M507 601L509.1 603M375 608.2L381.2 605.1L385.3 603M395.6 612.3L402.8 603M385.3 603L395.6 612.3L403.9 623.6L414.2 635L422.4 640.1M375 638.1L383.3 645.3L391.5 653.5L386.3 658.7L395.6 668L405.9 678.3L399.8 684.5L391.5 691.7L385.3 698.9L377.1 706.1L375 705.1M391.5 653.5L402.8 641.2L403.9 637L408 636L409 639.1L414.2 635M422.4 640.1L434.8 627.8L447.2 615.4L443.1 611.3L441 608.2L446.2 603M447.2 615.4L454.4 619.5L459.6 614.3L463.7 618.5L470.9 613.3L478.1 606.1L476.1 603M470.9 613.3L482.3 623.6L489.5 629.8L493.6 635L487.4 642.2L478.1 652.5L470.9 658.7L463.7 663.8L460.6 660.8L457.5 657L460.6 653.5L454.4 646.3L448.2 640.1L445.1 637L435.8 627.8M489.5 629.8L495.7 623.6L500.4 618.5L498.8 613.3L496.7 609.2L494.6 605.1M500.4 618.5L505 622.6L512.2 616.4L517.3 611.3L511.1 607.1L510.1 604M422.4 640.1L426.6 640.1L431.7 645.3L434.8 651.5L429.7 657.7L432.8 662.8L436.9 666.9L441 672.1L445.1 670L448.2 673.1M463.7 663.8L448.2 673.1L438.9 682.4L429.7 692.7L424.5 699.9M441 672.1L434.8 670L428.6 675.2L421.4 677.3L416.3 681.4L412.1 685.5L413.2 688.6L408 689.6L401.8 684.5L399.8 684.5M408 689.6L413.2 693.8L419.3 699.9L424.5 699.9L427.6 704.1L428.6 709.2L436.9 716.4L442 710.3L447.2 716.4M470.9 658.7L478.1 665.9L482.3 663.8L487.4 669L496.7 660.8L507 652.5L511.1 657.7L516.3 655.6M507 652.5L511.1 648.4L516.3 649.4M487.4 669L480.2 675.2L476.1 679.3L474 685.5L471.9 689.6L467.8 692.7L468.9 697.9L463.7 702L455.4 709.2L447.2 716.4L438.9 725.7L429.7 734L423.5 739.1L423.5 747.4L425.5 754.6L428.6 761.4M480.2 678.3L486.4 683.4L490.5 682.4L496.7 689.6L500.8 686.5L503.9 688.6L510.1 683.4L516.3 684.5M468.9 697.9L476.1 693.8L481.2 692.1L486.4 696.9L490.5 701L492.6 706.1L498.8 711.3L507 715.4L513.2 717.5L514.2 723.7M385.3 698.9L390.5 702L395.6 708.2L397.7 711.3L402.8 715.4L409 721.6L411.1 728.8L415.2 734L409 737.1L401.8 743.3L393.6 750.5L387.4 756.7L383.3 761.4M415.2 734L419.3 729.9L424.5 727.8L429.7 734M375 740.2L379.1 743.3L381.2 751.5L387.4 756.7L389.4 761.4M438.9 725.7L447.2 735L455.4 743.3L461.6 747.4L465.8 756.7L463.7 761.4M461.6 747.4L470.9 739.1L476.1 743.3L478.1 747.4L484.3 753.6L490.5 759.8L496.7 754.6L503.9 747.4L510.1 755.6L514.2 761.4M514.2 723.7L509.1 730.9L507 739.1L503.9 747.4M517.3 636L523.5 637L527.6 635L529.7 629.8L533.8 627.8L540 628.8M517.3 636L540 635M517.3 662.8L523.5 660.8L529.7 659.7L536.9 662.8L540 664.9M516.3 684.5L521.5 679.3L527.6 674.2L533.8 675.2L540 672.1M515.3 704.1L521.5 696.9L528.7 690.7L533.8 693.8L540 689.6M519.4 761.4L523.5 753.6L529.7 747.4L540 741.2M525.6 753.2L530.7 758.7L532.8 761.4M519.4 606.1L525.6 613.3L531.8 616.4L540 608.2M570.5 111.5L569.3 136.9M545.2 136.9L545.8 142L547.2 145.1L546.6 155.4L542.1 155.9L543.1 162.7L545.2 167.8L544.1 178.1L546.2 184.3L545.2 189.5L547.2 191.5L540 191.5M606 114.2L617.4 112.1L619.4 117.3L624.6 120.4L628.7 125.5L633.9 128.6L636.5 136.9L628.7 138.9L622.5 137.3L614.3 141L606 145.1L598.8 149.3L592.6 151.3L593.6 155.4L605 155L608.1 163.7L612.2 173.6M594 193.6L595.7 189.5L601.9 180.2L612.2 173.6L620.4 166.8L627.7 161.2L634.9 154.4L647.3 148.2L657.6 142L667.9 138.9M636.5 136.9L641.1 131.7L645.2 128.6L651.4 127.6L653.4 132.8L651.4 133.8L655.5 135.8L658.6 140.6L667.9 138.9M628.7 138.9L631.8 145.1L634.9 152.3M627.7 161.2L633.9 168.8L629.7 174L622.5 182.3L619.4 187.4L621.5 192.6L626.6 190.5L632.8 195.7L636.9 192.6L647.3 187.4L659.6 185.4L672 182.3L684.4 180.2L697.8 178.1M632.8 195.7L630.8 199.8L624.6 202.9L620.4 204.9L614.3 210.1M584.3 191.5L594 193.6L601.9 198.8L608.1 204.9L614.3 210.1L622.5 219.4L630.8 227.6L636.9 235.9L643.1 240L651.4 246.2L655.5 252.4L657.6 256.5L662.7 259.6L665.8 260.6M614.3 210.1L608.1 215.3L602.9 223.5L598.8 229.7L595.7 235.9L592.6 240L586.4 246.2L581.3 252.4L570.9 259.6L560.6 264.8M578.8 211.1L587.4 210.7L597.8 212.2L602.9 215.3L600.8 222.5L602.9 223.5M667.9 138.9L672 146.2L676.1 157.5L674.1 163.7L674.1 168.8L671 176.1L674.1 182.7M674.1 168.8L684.4 165.8L688.5 163.7M667.9 138.9L674.1 134.8L680.3 128.6L686.5 124.5L692.6 118.3L697.8 114.2M639 126.6L645.2 122.4L652.4 119.3L658.6 116.3L661.7 113.2M676.1 114.2L680.3 116.3L686.5 114.2M697.8 134.8L692.6 138.9L689.5 145.1L688.5 155.4L687.5 163.7M697.8 207L690.6 211.1L684.4 217.3L677.2 222.5L674.1 229.7L675.1 236.9L676.1 244.1L674.1 252.4L672 258.6L665.8 260.6L663.8 266.8L664.8 273M677.2 222.5L684.4 225.6L692.6 227.6L697.8 228M540 231.3L546.2 233.8L550.3 235.9L554.4 234.2M596.7 240L598.8 244.1L603.9 250.3L606 258.6L605 262.7L608.1 264.8L612.2 266.8L615.3 273M603.9 251.4L597.8 253.4L591.6 256.5L586.4 262.7L584.3 271M642.7 273L643.1 267.9L647.3 265.2L651.4 266.8L652.4 273M584.3 273L583.3 281.3L580.2 288.5L579.2 293.6M619.4 273L619.4 281.3L615.3 285.4L612.2 285.4M579.2 293.6L581.3 299.8L587.4 306L589.5 311.2L587.4 317.3L581.3 319.4L575.1 321.5L566.8 324.6L567.8 331.8L566.4 339L568.9 347.3L569.9 356.5L560.6 360.7L552.4 366.9L548.3 372L546.2 367.9L540 366.9M589.5 311.2L595.7 315.3L602.9 318.4L610.1 317.3L618.4 310.1L621.5 302.9L624.6 297.8L627.7 294.7M610.1 317.3L614.3 324.6L618.4 330.8L615.3 334.9L613.2 341.1L610.1 345.2L612.2 351.4L617.4 355.5L615.3 359.6L617.4 364.8M618.4 330.8L626.6 332.8L629.7 339L630.8 345.2L636.9 347.3L642.1 350.4L646.2 355.5M569.9 356.5L574 363.8L577.1 368.9L581.3 361.7L584.3 360.7L590.5 354.5L597.8 358.6L605 359.6L609.1 365.8L612.2 369.9L611.2 380.3L607 388.5L601.9 394.7L598.8 400.9M605 359.6L617.4 364.8L620.4 372L623.5 380.3L624.6 387.5L630.8 390.6L636.9 390.6M624.6 387.5L616.3 391.6L608.1 396.8L598.8 400.9L597.8 407.1L589.5 411.2L578.2 409.1L570.9 404L564.8 400.9L556.5 404L551.3 401.9L548.3 396.8L540 397.8M548.3 372L552.4 380.3L550.3 388.5L548.3 396.8M564.8 400.9L556.5 413.3L553.4 421.5L552.4 429.8L554.4 438M578.2 409.1L577.1 417.4L576.1 427.7L577.1 438M598.8 400.9L600.8 411.2L603.9 420.5L608.1 422.5L613.2 422.5L615.3 426.7L620.4 429.8L626.6 434.9M641.1 279.2L643.1 285.4L642.1 293.6L641.1 299.8L640 307M553.4 438L555.5 444.2L564.8 450.4L573 453.5L572 462.8L566.8 473.1L562.7 482.3L548.3 486.5L542.1 493.7L545.2 499.9M576.1 438L574 446.3L573 453.5M576.1 438L583.3 441.1L589.5 444.2L599.8 443.2L606 446.3L607 456.6L608.1 466.9L619.4 468.9L620.4 476.2L628.7 477.2M562.7 482.3L565.8 491.6L570.9 498.8M601.9 504.4L607 509.2M540 445.2L548.3 443.2L553.4 438M687.5 702L688.1 714.4L688.5 726.8L687.5 736L682.3 744.3L676.1 752.5L671 759.8M540 619.5L546.2 616.4L552.4 613.3L560.6 610.2M540 623.6L546.2 622.6L551.3 626.7L556.5 629.8M569.9 642.2L570.9 646.3L562.7 648.4L566.8 652.5L573 657.7L578.2 664.9L584.3 673.1L591.6 681.4L599.8 674.2L608.1 664.9M570.9 646.3L575.1 647.3L579.2 650.4L583.3 655.6L589.5 656.6L594.7 657.7L596.7 654.6L598.8 658.7L601.9 662.8L606 664.9L610.1 662.8L614.3 666.9L618.4 671.1L621.5 675.2L622.5 678.3M598.8 641.2L594.7 648.4L596.7 654.6M616.3 640.1L608.1 648.4L599.8 657.7M636.9 640.1L643.1 641.2L651.4 642.2L653.4 646.3L653 652.5L656.5 657.7L658.6 658.7M622.5 678.3L628.7 674.2L635.9 671.1L639 666.9L645.2 664.9L651.4 664.9L657.2 661.8M622.5 678.3L617.4 684.5L621.5 689.6L623.5 693.8M623.5 693.8L630.8 693.8L632.8 688.6L639 686.5L641.1 683.4L647.3 685.5L652.4 688L658.6 689.6L663.8 691.7M652.4 688L649.3 697.9L653.4 701L652.4 706.1L648.3 714.4M623.5 693.8L630.8 702L632.8 705.1L628.7 711.3L632.8 717.5L636.9 722.6L643.1 717.5L648.3 714.4L655.5 721.6L663.8 713.4L672 704.1L674.1 699.9M623.5 693.8L617.4 699.9L611.2 705.1L615.3 709.2L609.1 715.4L613.2 722.6L608.1 728.8L603.9 733L611.2 739.1L618.4 745.3L621.5 743.3M636.9 722.6L630.8 726.8L622.5 730.9L619.4 737.1L621.5 743.3L630.8 751.5L636.9 757.7L641.1 761.4M655.5 721.6L661.7 728.8L667.9 735L672 739.1L674.1 745.3L680.3 747.4M630.8 751.5L622.5 761.4M636.9 757.7L643.1 750.5L645.2 744.3L651.4 743.3L653.4 738.1L659.6 737.1L659.6 729.9M540 671.1L543.1 675.2L548.3 680.4L544.1 684.5L540 688.6M540 660.8L548.3 657.7L558.6 655.6L562.7 651.5M578.2 684.5L570.9 685.5L563.7 689.6L556.5 695.8L553.4 697.9L559.6 706.1L555.5 714.4L552.4 722.6L548.3 727.8M578.2 684.5L583.3 689.6L589.5 696.9L596.7 704.1L601.9 709.2L609.1 715.4M596.7 704.1L589.5 711.3L583.3 718.5L584.3 722.6L577.1 726.8L570.9 731.9L564.8 736L562.7 741.2M548.3 727.8L554.4 735L562.7 741.2L570.9 750.5L580.2 761.4M540 740.2L544.1 738.1L548.3 727.8M578.2 684.5L584.3 674.2M540 641.2L545.2 640.1L551.3 643.2L548.3 645.3L555.5 651.5L560.6 654.6M500 513.8L505 515.6L509.4 515L512.5 517.5L513.1 521.2L511.9 523.1L515 525.6L518.1 526.9L518.8 523.8L521.9 521.9L525 517.5L531.2 511.2M511.9 523.1L508.8 528.8L507.5 536.2L505 538.1L500 540M507.5 536.2L509.4 540L511.2 543.1L510 550L515 553.1L520 556.2M520.6 527.5L525 531.9L530 536.2L533.8 538.8M533.8 538.8L537.5 535L541.2 530.6L544.4 525.6L546.9 523.1L548.1 519.4L548.8 515M533.8 538.8L535.6 543.8L536.9 548.1L541.2 549.4L545 550L548.1 546.9L552.5 545.6L556.9 542.5L558.1 541.2M520 556.2L525 554.4L532.5 552.5L536.9 549.4M558.1 541.2L556.9 537.5L558.8 534.4L562.5 533.8L560 530.6L561.9 528.1L565 526.9M558.1 541.2L560 545L560.6 550L557.5 551.2L555 553.8L553.8 556.9M577.5 538.8L582.5 537.5L588.8 538.8M553.8 556.9L550 558.8L543.8 562.5L537.5 566.2L533.1 568.1L532.5 572.5L526.9 577.5L522.5 581.2L520 583.1M532.5 552.5L535 555L536.9 560L537.5 566.2M553.8 556.9L556.2 560M533.1 568.1L536.2 570L541.2 573.8L550 571.9L556.2 570M532.5 572.5L536.2 577.5L540 580L542.5 578.1L547.5 576.9L555 574.4L556.9 575M556.9 575L558.8 581.2M540 580L543.8 587.5L546.2 592.5L547.5 596.2L551.2 597.5L560 593.8M500 568.8L503.8 568.1L507.5 566.2L512.5 565.6L515 562.5L518.8 560L520 556.2M512.5 565.6L515 570L518.8 573.8L525 578.8M500 587.5L503.8 586.2L507.5 585L512.5 581.9L516.2 582.5L520 583.1L525 587.5L531.2 593.8L535 597.5M500 592.5L505 596.9L507.5 600M520 583.1L525 578.8M595 543.8L590 545L586.2 547.5L588.1 551.9L591.2 553.1L591.9 557.5L597.5 559.4L601.9 560M560 551.2L565 551.9L570 553.1L576.2 548.8L575.6 543.8L576.2 540M570 553.1L572.5 556.9L575 560.6L577.5 565L578.8 566.9L580.6 561.2L585 557.5L586.9 556.2L588.1 558.8L591.9 557.5M560 560.6L562.5 563.8L566.2 566.9L569.4 570L571.9 569.4L575 565L577.5 565M571.9 569.4L576.2 573.1L578.8 577.5L573.8 578.8L570 580L566.2 583.1L568.8 588.1L571.9 591.2L576.2 587.5L580 586.2L580.6 582.5L580 577.5L578.8 577.5M578.8 566.9L582.5 570L586.9 572.5L590 569.4L593.8 561.9L591.9 557.5M586.9 572.5L584.4 573.8L581.2 576.2L580 577.5M584.4 573.8L588.8 578.8L591.2 581.2L593.8 583.8L590 585L585 585.6L580.6 586.2M590 569.4L593.1 573.1L596.2 577.5L599.4 581.2M585 571.2L589.4 575.6L593.1 579.4L596.2 582.5M588.1 577.5L591.9 573.8M590.6 581.2L595 577.5M596.2 571.2L599.4 570.6L601.9 573.1M596.2 571.2L597.5 575L600 577.5M571.9 591.2L575 595L580 597.5L583.1 601.9L588.8 601.2L591.9 599.4L593.1 595L596.2 591.2L600 589.4L603.1 588.1M576.2 587.5L580.6 590L586.2 592.5L585.6 596.2L588.8 601.2M586.2 592.5L590.6 590L595 586.9L597.5 583.8M566.2 583.1L563.8 587.5L561.2 592.5L560 593.8M561.2 592.5L565 597.5L568.8 601.9L572.5 605M600 589.4L599.4 593.8L600 598.8L598.8 602.5L597.5 606.9M603.1 588.1L603.8 592.5L603.1 597.5L605 602.5L603.8 606.9M596.2 591.2L593.8 596.2L593.1 599.4L595.6 603.8L595 607.5M603.1 588.1L607.5 590.6L610 595L609.4 600L611.2 603.8L610.6 608.1M607.5 586.2L611.2 588.8L615 593.8L617.5 597.5L615.6 601.2L612.5 605L613.8 608.8M603.8 595L609.4 595.6M604.4 600L610 599.4M617.5 597.5L622.5 595L625 595.6M615.6 601.2L620 598.8L625 595.6M613.8 608.8L617.5 606.2L622.5 602.5L627.5 598.1M613.8 608.8L618.8 613.8L622.5 617.5L626.9 621.2L631.9 625.6L629.4 628.8L625 632.5L621.2 635L617.5 631.9L612.5 627.5L607.5 623.1L603.1 618.1L598.8 614.4L595 610L595 607.5M622.5 617.5L626.2 613.8L631.2 609.4L636.2 605L640 602.5M622.5 621.2L627.5 620L628.1 621.9L623.8 623.8L622.5 621.2M603.1 618.1L598.8 622.5L595 626.2L596.2 630L595 633.8L591.2 635L588.8 630L585 626.2L581.2 623.8L577.5 618.8L575 615L572.5 611.2L572.5 605M560 610L563.8 607.5L568.8 608.1L572.5 605M581.2 623.8L577.5 627.5L572.5 631.2L567.5 633.8L563.8 636.2L567.5 638.8L570 640M572.5 611.2L568.8 615L565 620L560 625M625 632.5L628.8 636.2L632.5 638.8L635 640M631.9 625.6L637.5 630L641.2 631.9L646.2 629.4L652.5 630L658.8 627.5M621.2 635L617.5 638.8L616.2 640M576.2 605.6L580 610L585 606.2L590 602.5L591.9 599.4M115 439.2L173.8 436.8L176.2 455.5M183.8 453L190 438L197.5 428L205 423L215 423L220 428L221.2 438L220 455.5L213.8 463L210 468L205 464.2L192.5 461.8L185 459.2L183.8 453M221.2 438L242.5 433M210 468L242.5 471.8M176.2 455.5L180 465.5L175 473L178.8 481.8M210 468L207.5 480.5L208.8 493L210 505.5L212.5 508L208.8 510.5L185 510.5M202.5 112.4L205.6 117.4L205 119.2L207.5 121.1L208.1 125.5L206.9 128.6M200.6 137.4L203.1 139.9L203.8 144.9L200 146.8M186.9 151.1L189.4 160.5L192.2 166.1"/>
<path fill="none" stroke="#262626" stroke-width="1.0" stroke-linejoin="round" d="M48.5 155.9L54.3 153L59 150.7L60.5 153.8L61.1 158.5L63.6 163.3L65.6 168.2L68.1 166.2L72.8 163.7L80.1 164.1L88.3 165.8L96.6 167.2L106.9 165.8L110.6 160L114.1 157.5L119.3 157.1L127.5 157.9L141.9 158.5L143.6 165.8L145 170.9L146.1 176.1L148.1 180.2L151.2 183.3L154.7 186.8L153.7 190.5L152.7 194.2L154.3 197.1L160.5 198.8L166.7 200.8L171.9 203.3L177 207L182.2 212.2L187.3 215.7L188.8 220.4L191.9 221.9L193.9 227.6L197.6 236.9L201.8 248.3L205.9 259.6L209 267.9L210 271M178 111.5L181.1 115.2L183.6 118.3L185.3 125.5L187.7 122.9L190 122L192.1 125.5L193.5 130.7L196.6 134.8L200.1 136.9L202.8 132.8L206.9 128.6L210 127M48.5 264.4L51.2 264.8L52.8 268.9L56.3 272L58.4 273M58.4 273L62.5 277.5L67.7 282.3L73.9 286.4L80.1 290.5L85.2 294.7L88.7 298.8L90 303.9L93.5 309.1L97.6 314.3L102.8 319.4L107.9 323.5L113.1 328.7L117.2 333.8L119.7 338L118.8 344.2L120.3 349.3L119.7 354.5L121.7 358.6L120.9 365.8L122.4 371L125.4 376.1L128.5 381.3L130.6 384.4L135.3 384.8L136.8 389.5L138.9 393.7L141.9 397.8L146.1 401.9L152.3 405L159.5 406L164.6 407.1L166.7 403.4L170.8 404L177 403L181.1 404L185.3 400.9L191.5 399.9L198.7 398.4L210 399.2M210 298.8L208 306L204.9 316.3L200.7 328.7L197.2 340L196.6 351.4L197.2 363.8L197.6 380.3L198.1 398.4M48.5 423.2L53.3 422.5L57.4 420.5L62.5 419.9L67.7 418.4L71.8 417.4L75.9 419L78 422.5L82.1 425.6L88.3 426.7L94.5 426.1L99.7 425.2L102.8 427.7L105.8 430.8L110 432.2L113.1 432.9L114.1 436L113.1 438M114.1 432.2L110 429.8L105.8 424.6L103.2 419.5L104.8 413.3L103.8 407.1L102.8 402.5L115.1 401.9L120.3 398.8L124.4 399.2L131.6 401.3L141.9 401.9L146.1 402.3M113.1 438L115.1 444.2L118.2 452.4L121.7 458.6L122.4 463.8L119.7 467.9L120.9 475.1L123 483.4L123.8 491.6L125.4 499.9L127.5 506.1L131.6 513.3L135.8 519.5L139.9 524.6L144 530.8L149.2 534.9L153.9 538.7L153.3 543.2L151.8 549.4L152.3 554.5L148.1 557.6L149.2 563.8L150.6 570L152.3 576.2L155.4 583.4L159.5 590.6L163.6 597.9L164.6 603M164.6 603L165.7 609.2L168.3 615.4L167.7 623.6L168.3 631.9L167.1 640.1L165 646.3L165.7 652.5L163.6 660.8L162.6 666.9L163 672.7M74.9 678.3L106.9 675.6L137.8 674.2L163 672.7L189.4 671.5L210 670M74.9 678.3L74.3 684.5L74.9 689.2L77 689.6L78 706.1L79.7 722.6L81.1 743.3L82.5 761.4M210 127L214.1 125.5L219.3 126.6L223.4 128.6L224.9 127.6L229.6 127L231.7 125.5L232.3 120.4L234.3 117.3L233.7 111.5M223.4 128.6L224.9 134.8L226.5 143.1L228.2 152.3L229 161.6L228.6 169.9L227.5 175L224.4 177.1L226.5 180.2L229.6 183.3L233.7 186L237.8 188.9L240.9 192.6L243 198.8L244.7 206L246.7 212.2L247.1 219.4L249.2 221L246.7 223.5L248.2 227.6L249.6 231.8L248.2 235.9L247.7 241M239.9 243.1L247.7 241.5L257.4 239L267.8 236.9L276 235.9L286.3 236.9L294.6 238L297.7 239L298.7 243.1L303.9 243.1L304.9 240.4L308 241L310 244.1L313.1 245.8L321.4 246.6L327.6 247.2L328.6 250.3L333.8 252.4L342 253.4L354.4 254.9L364.7 256.1L365.7 258.6L364.3 260.6L366.8 264.4L369.9 267.2L375 268.5M239.9 243.1L240.9 252.4L241.4 260.6L238.9 264.8L235.8 268.9L232.7 273M232.7 273L228.6 275.1L220.3 277.5L214.1 279.2L212.1 285.4L211 293.6L210 298.8M210 270.9L214.1 279.2M210 399.2L216.2 401.9L222.4 406L227.5 410.2L229.6 415.3L230.6 421.5L231.7 425.6L238.9 426.1L246.1 425.2L247.1 429.8L248.2 438M248.2 438L248.8 443.2L247.1 450.4L246.1 458.6L244.7 466.9L243 473.1L240.9 478.2L236.8 484.4L237.2 499.9L238.5 520.5L239.9 541.1L240.9 561.8L242 582.4L242.6 603M335.4 603L335.4 561.8L362.6 561.3L375 561.3M362.6 561.3L368.8 551.4L375 542.2M242.6 603L243 623.6L243.4 644.3L244 669.4L210 670.7M335.4 603L335.8 644.3L336.2 685.5L336.2 726.8L336.7 761.4M242.6 603.6L292.5 603L335.4 602.6M432.3 111.5L431.7 133.8L429 157.5L425.5 182.3L421.4 207L417.3 231.8L413.2 252.4L409.7 273M431.7 133.8L457.5 134.2L478.1 134.4L498.8 134.8L519.4 135.2L534.9 135.8L540 136.1M379.1 273L378.1 281.3L380.2 287.4L383.3 291.2L402.8 291.6L404.9 298.8L411.1 306L418.3 313.2L422 318.4L419.3 330.8L415.2 345.2L410.1 361.7L405.5 376.1L399.8 381.3L398.7 384.4L400.2 394.7L401.8 398.8L401.4 407.1L402.8 415.3L408 421.5L412.1 427.7L415.2 433.9L416.3 438M409 273L407 283.3L405.5 291.6L404.9 298.8M540 333.8L535.9 340L531.8 345.2L527.6 349.3L526.6 353.4L522.5 355.5L520.4 358.6L521.5 361.7L517.3 365.8L515.3 369.9L511.1 371L509.1 374.1L506 375.1L502.9 379.2L499.8 383.4L492.6 384.4L488.4 386.4L487.4 392.6L486.4 398.8L484.3 403L488 407.1L487.4 413.3L484.3 416.4L485.4 421.5L486.4 425.6L483.3 427.7L484.3 432.9L481.2 437L480.2 438M415.2 438L416.3 442.1L415.2 446.3L419.3 449.3L423.5 455.5L424.5 462.8L422.9 470L415.2 479.3L405.9 494.7L395.6 510.2L385.3 525.7L375 541.1M375 561.3L426.2 561.3L436.9 547.3L447.2 534.9L457.5 524.6L465.8 517.4L470.9 511.8L473 508.1L476.1 506.7L480.2 509.2L485.4 510.2L490.5 513.3L495.7 512.7L497.7 509.2L498.8 504L502.9 498.8L506 493.7L508 489.6L506 485.4L502.9 482.3L498.8 481.3L494.6 478.2L490.5 472L487.4 464.8L484.3 458.6L483.3 450.4L482.3 443.2L480.2 438M508 489.6L512.2 493.7L516.3 497.8L520.4 501.9L525.6 504L529.7 507.1L532.8 511.2L536.9 512.7L540 512.7M540 136.1L568.9 136.9L601.9 138.3M602.9 111.5L605.6 116.3L606.4 122.4L605.6 128.6L602.9 134.8L601.5 138.9L602.3 142L598.8 145.1L593.6 146.8L589.5 148.2L587.9 153.4L587.9 161.6L589.5 169.9L587 176.1L585.8 182.3L584.3 189.5L582.3 194.6L581.3 200.8L578.8 207L576.1 211.1L570.9 213.2L566.8 217.3L564.8 220.4L560.6 221.9L559.6 227.6L556.5 229.7L554.4 233.8L554.9 240L553.4 248.3L551.3 256.5L550.3 261.7L552.8 266.8L554 273M697.8 264.8L691.6 265.8L687.5 268.9L686 273M554 273L552.4 279.2L549.3 287.4L546.2 291.6L547.8 295.7L548.3 303.9L549.3 314.3L548.3 321.5L545.2 327.7L542.1 331.8L540 333.8M547.8 293.6L554.4 294.7L560.6 293.6L566.8 294.7L573 296.7L579.2 293.6L584.3 289.5L589.5 287.9L594.7 289.5L601.9 287.4L608.1 285.8L612.2 285.4L616.3 288.5L621.5 291.6L626.6 293.6L630.8 293.6L634.9 298.8L638 303.9L641.1 309.1L642.1 314.3L645.2 318.4L649.3 321.5L653.4 324.6M686.5 273L685.4 277.1L682.3 281.3L677.2 286.4L672 289.5L666.9 290.5L667.9 295.7L663.8 301.9L657.6 307L652.4 311.2L650.4 316.3L653 321.5L654.5 326.6L653.4 334.9L649.3 338L648.3 342.1L651.4 345.2L650.4 352.4L646.2 356.5L645.2 362.7L641.1 367.9L636.9 374.1L635.9 378.2L640 381.3L641.1 385.4L636.9 391.6L634.9 396.8L629.7 399.9L627.7 405L630.8 409.1L629.7 415.3L628.7 421.5L631.8 426.7L630.8 431.8L627.7 434.9L626.6 438M540 513.3L543.1 516.4L547.2 514.7L550.3 519.5L555.5 521.5L562.7 521.5L565.8 526.7L570.9 528.8L578.2 531.9L584.3 536L591.6 541.1L595.7 543.2L601.9 543.2L610.1 542.2L611.2 545.3L610.5 550.4L612.2 553.5L611.2 557.6L616.3 555.6L615.3 557.6L611.2 558L608.1 559.7L602.9 560.7L604.4 565.9L601.9 570L602.9 575.2L606 578.3L609.1 582.4L608.1 585.5L603.9 586.9L600.8 585.5L599.4 581.4L601.9 578.3M609.1 582.4L614.3 588.6L619.4 592.7L626.6 596.8L633.9 599.9L639 603M625.6 438L626.6 446.3L628.3 456.6L629.1 466.9L629.7 475.1L626.6 479.3L620.4 481.7L614.3 484.4L612.2 489.6L610.1 497.8L608.1 506.1L606.4 514.3L606 520.5L607.7 528.8L608.5 537L610.1 542.2M639 603L645.2 607.1L651.4 612.3L658.6 619.5L664.8 627.8L668.9 633.9L671 640.1L670 646.3L665.8 651.5L660.7 656.6L657.6 661.8L656.5 669L657.6 677.3L660.7 685.5L664.8 691.7L668.9 695.8L674.1 699.5L680.3 701L685.4 699.9L687.5 698.9L688.9 703L689.5 710.3L690.2 722.6L689.5 735L684.4 743.3L678.2 751.5L673 757.7L670 761.4M375 268.5L377 270.5L379.1 273"/>
<path fill="#222" stroke="none" d="M610 551.9L611.5 551.2L612.2 554L615.6 554L616.5 554.8L615 556.9L611.9 557.5L610.2 555.2ZM601.9 560L603.8 559.8L604.8 563.1L604.4 566.5L603.1 565.6L603.5 563.1Z"/>
<g fill="none" stroke="#000" stroke-width="1.45" stroke-dasharray="1.25 1.5">
<path d="M48.5 279.5A4706 4706 0 0 1 697.5 279.5"/>
<path d="M48.5 613.8A4412 4412 0 0 1 697.5 613.8"/>
<path d="M234 111.5L252.3 761.5"/>
<path d="M535 111.5L513.8 761.5"/>
</g>

</g>
</g>
<rect x="48.5" y="111.5" width="649" height="650" fill="none" stroke="#000" stroke-width="1.1"/>
<!-- AXIS LABELS -->
<text x="40.5" y="283.5" font-size="13.89" text-anchor="end">30°S</text>
<text x="40.5" y="617.6" font-size="13.89" text-anchor="end">35°S</text>
<text x="253.4" y="777.8" font-size="13.89" text-anchor="middle">65°W</text>
<text x="514.3" y="777.8" font-size="13.89" text-anchor="middle">60°W</text>
<!-- COLORBAR -->
<g id="cbar">
<path d="M710 141 L723 111.5 L736 141 Z" fill="#7e0610"/>
<rect x="710" y="141" width="26" height="59" fill="#7e0610"/>
<rect x="710" y="200" width="26" height="59" fill="#ac1117"/>
<rect x="710" y="259" width="26" height="59" fill="#ca181d"/>
<rect x="710" y="318" width="26" height="59" fill="#e83429"/>
<rect x="710" y="377" width="26" height="59" fill="#f6583e"/>
<rect x="710" y="436" width="26" height="59" fill="#fb7a5a"/>
<rect x="710" y="495" width="26" height="59" fill="#fc9b7c"/>
<rect x="710" y="554" width="26" height="59" fill="#fcbba1"/>
<rect x="710" y="613" width="26" height="59" fill="#fed9c9"/>
<rect x="710" y="672" width="26" height="59" fill="#ffede5"/>
<path d="M710 141 L723 111.5 L736 141 L736 731 L723 760.5 L710 731 Z" fill="none" stroke="#000" stroke-width="1.1" stroke-linejoin="miter"/>
<g stroke="#000" stroke-width="1">
<path d="M736 141h5M736 200h5M736 259h5M736 318h5M736 377h5M736 436h5M736 495h5M736 554h5M736 613h5M736 672h5M736 731h5"/>
</g>
<g font-size="10.2">
<text x="747.2" y="144.8">3000</text>
<text x="747.2" y="203.8">2700</text>
<text x="747.2" y="262.8">2400</text>
<text x="747.2" y="321.8">2100</text>
<text x="747.2" y="380.8">1800</text>
<text x="747.2" y="439.8">1500</text>
<text x="747.2" y="498.8">1200</text>
<text x="747.2" y="557.8">900</text>
<text x="747.2" y="616.8">600</text>
<text x="747.2" y="675.8">300</text>
<text x="747.2" y="734.8">0</text>
</g>
<text x="0" y="0" font-size="13" text-anchor="middle" transform="translate(789 437) rotate(-90)">J/kg</text>
</g>
<!-- LOGO -->
<g id="logo">
<g id="emblem">
<circle cx="667.8" cy="42.6" r="22.4" fill="#fff" stroke="#3a3a3a" stroke-width="0.9"/>
<circle cx="667.8" cy="42.6" r="21.3" fill="none" stroke="#888" stroke-width="0.4"/>
<circle cx="667.8" cy="42.6" r="19.2" fill="none" stroke="#a0a0a0" stroke-width="2.4" stroke-dasharray="1.3 0.6 0.7 0.8"/>
<circle cx="667.8" cy="42.6" r="17" fill="#fff" stroke="#999" stroke-width="0.4"/>
<path d="M653.4 47.5L657 45.2L660 43.5L661 39.5L663.5 36.2L667.5 35.2L670.5 36.5L672 33.5L676 32.6L680 33L683.5 35.5L685 40L684.6 45.5L683 49L679 52L676.5 55.5L672 58L666 58.6L660.5 57.5L657 54.5L655 51Z" fill="#39a7f0"/>
<path d="M655.5 47.8L659.5 45.8L661.8 43L662.5 39.5L665 37L668.5 37L671 39.5L673.5 36L677 34.8L681 36L683.3 40L683 45.5L681 48.5L677.5 51L675 54.5L671 56.8L665.5 57.2L661 56L658.5 53L656.5 50Z" fill="#3fd6c8"/>
<path d="M658 48.5L661.5 46L663.5 42.5L664.5 39.5L667.5 38.5L670 41L672 44L675 47.5L679 49L676 52L673.5 55L669 56L664 56L660.5 54L659 51Z" fill="#58d957"/>
<path d="M674 36.5L678 35.8L681.5 38L682.5 42L681.5 46L679 44L676 40.5Z" fill="#7fe05a"/>
<path d="M662.5 46L665 42.5L667.5 41.5L669.5 44.5L672 48L675 50.5L672.5 53.5L668.5 54.5L664.5 54L662 51Z" fill="#d9e43a"/>
<path d="M664.5 47L667 44.5L669.5 47.5L671.5 50.5L669 52.5L666 52Z" fill="#f2b432"/>
<path d="M659 54.5L662 53.8L664 56L661 57Z" fill="#ee8a2a"/>
<path d="M681 42L683 41.5L683.2 45L681.6 46Z" fill="#e9c837"/>
<path d="M672.3 39.8L675.5 41.5L678.5 44.6L681 47.6L677.6 48L674.4 45.6L672 43Z" fill="#fff"/>
<path d="M658.6 49.5L660.6 48.6L661.2 51.4L659.4 52Z" fill="#fff"/>
<path d="M654.5 35.5L656.2 37.6" stroke="#4a8af0" stroke-width="0.9" fill="none"/>
<g fill="none" stroke="#000" stroke-linecap="butt">
<path d="M642.3 36.8Q636.6 51.5 648 61.5Q654 66.6 661.6 68.2L662.4 65.2A23.2 23.2 0 0 1 645.4 37.6Z" fill="#000" stroke="none"/>
<path d="M693.3 36.8Q699 51.5 687.6 61.5Q681.6 66.6 674 68.2L673.2 65.2A23.2 23.2 0 0 0 690.2 37.6Z" fill="#000" stroke="none"/>
<path d="M641.6 39.5A26.2 26.2 0 0 0 660.8 67.6" stroke="#fff" stroke-width="6" stroke-dasharray="0.35 2.1"/>
<path d="M694 39.5A26.2 26.2 0 0 1 674.8 67.6" stroke="#fff" stroke-width="6" stroke-dasharray="0.35 2.1"/>
<path d="M660.6 70.3L667.8 66.2L675 70.3" stroke-width="1" stroke="#222"/>
<path d="M663.5 66.2L667.8 68.8L672.1 66.2" stroke-width="0.8" stroke="#222"/>
</g>
</g>
<g id="logotext">
<text class="lg" transform="translate(699 33.7) scale(0.72 1)" font-size="19" fill="#1e1e1e">Grupo de</text>
<text class="lg" transform="translate(699.6 49.4) scale(0.72 1)" font-size="19" fill="#1e1e1e">Usuarios</text>
<text class="lg" transform="translate(699.6 63.5) scale(0.78 1)" font-size="15.2" font-weight="bold" fill="#000" stroke="#000" stroke-width="0.45">WRF</text>
</g>
</g>
</svg>
</body>
</html>
